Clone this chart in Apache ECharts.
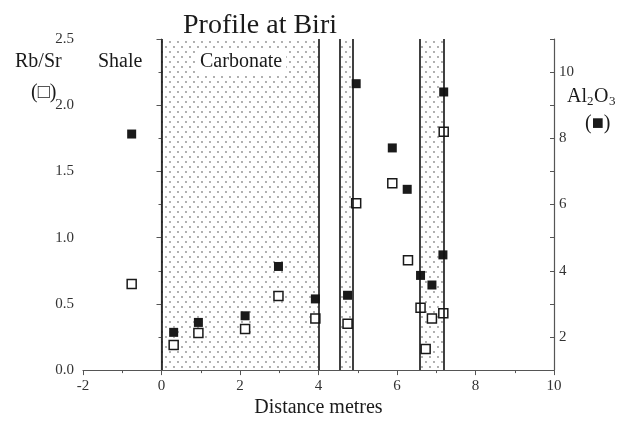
<!DOCTYPE html>
<html>
<head>
<meta charset="utf-8">
<script src="https://cdn.jsdelivr.net/npm/echarts@6/dist/echarts.min.js"></script>
<style>html,body{margin:0;padding:0;background:#fff;}#c{width:623px;height:423px;}</style>
</head>
<body>
<div id="c"></div>
<script>
// Distance (m) and values
const rbsrX = [-0.76, 0.31, 0.94, 2.13, 2.98, 3.92, 4.74, 4.96, 5.88, 6.28, 6.60, 6.73, 6.89, 7.18, 7.19];
const rbsrY = [0.65, 0.19, 0.28, 0.31, 0.56, 0.39, 0.35, 1.26, 1.41, 0.83, 0.47, 0.16, 0.39, 0.43, 1.80];
const alX = [-0.76, 0.31, 0.94, 2.13, 2.98, 3.92, 4.74, 4.96, 5.88, 6.26, 6.60, 6.89, 7.17, 7.19];
const alY = [8.13, 2.14, 2.44, 2.64, 4.13, 3.15, 3.26, 9.65, 7.71, 6.46, 3.86, 3.57, 4.48, 9.40];
// Carbonate (dotted) bands and boundary lines
const bandStart = [0, 4.55, 6.57];
const bandEnd = [4.0, 4.87, 7.19];
const boundaries = [0, 4.0, 4.55, 4.87, 6.57, 7.19];
const xTicks = [-2, 0, 2, 4, 6, 8, 10];
const leftTicks = [0.0, 0.5, 1.0, 1.5, 2.0, 2.5];
const rightTicks = [2, 4, 6, 8, 10];

const FONT = 'Liberation Serif';
const pc = document.createElement('canvas');
pc.width = 8; pc.height = 10;
const pctx = pc.getContext('2d');
pctx.fillStyle = '#ffffff'; pctx.fillRect(0,0,8,10);
pctx.fillStyle = '#8c8c8c';
pctx.beginPath(); pctx.arc(2, 2, 0.9, 0, Math.PI*2); pctx.fill();
pctx.beginPath(); pctx.arc(6, 7, 0.9, 0, Math.PI*2); pctx.fill();

const chart = echarts.init(document.getElementById('c'), null, {renderer:'canvas'});
const txt = (x, y, s, size, extra) => ({
  type:'text', left:x, top:y, z:100,
  style:Object.assign({text:s, font: size + 'px "' + FONT + '"', fill:'#1a1a1a'}, extra || {})
});

const option = {
  animation:false,
  backgroundColor:'#fff',
  grid:{left:83, right:69, top:39, bottom:44},
  title:{text:'Profile at Biri', left:255, top:21, textAlign:'center', textVerticalAlign:'middle',
    textStyle:{fontFamily:FONT, fontSize:28, fontWeight:'normal', color:'#1a1a1a'}},
  xAxis:{type:'value', min:-2, max:10, interval:2,
    axisLine:{lineStyle:{color:'#555', width:1.2}},
    axisTick:{show:true, length:5, lineStyle:{color:'#555'}},
    minorTick:{show:true, splitNumber:2, length:3, lineStyle:{color:'#555'}},
    splitLine:{show:false},
    axisLabel:{fontFamily:FONT, fontSize:15, color:'#333', margin:8,
      formatter:v => xTicks.includes(v) ? String(v) : ''},
    name:'Distance metres', nameLocation:'middle', nameGap:26,
    nameTextStyle:{fontFamily:FONT, fontSize:20, color:'#1a1a1a'}
  },
  yAxis:[
    {type:'value', min:0, max:2.5, interval:0.5,
      axisLine:{show:true, lineStyle:{color:'#555', width:1.2}},
      axisTick:{show:true, length:5, lineStyle:{color:'#555'}},
      minorTick:{show:true, splitNumber:2, length:3, lineStyle:{color:'#555'}},
      splitLine:{show:false},
      axisLabel:{fontFamily:FONT, fontSize:15, color:'#333', margin:9,
        formatter:v => leftTicks.some(t => Math.abs(t - v) < 1e-9) ? v.toFixed(1) : ''}
    },
    {type:'value', min:1, max:11, interval:1, position:'right',
      axisLine:{show:true, lineStyle:{color:'#555', width:1.2}},
      axisTick:{show:true, inside:true, length:4, lineStyle:{color:'#555'}},
      splitLine:{show:false},
      axisLabel:{fontFamily:FONT, fontSize:15, color:'#333', margin:5,
        formatter:v => rightTicks.includes(v) ? String(v) : ''}
    }
  ],
  graphic:[
    txt(15, 52, 'Rb/Sr', 20),
    txt(31, 83, '(\u25A1)', 20),
    txt(98, 52, 'Shale', 20),
    txt(196, 49, 'Carbonate', 20, {backgroundColor:'#fff', padding:[3,4,3,4]}),
    txt(567, 87, 'Al', 20),
    txt(587, 95, '2', 13),
    txt(594, 87, 'O', 20),
    txt(609, 95, '3', 13),
    txt(585, 114, '(\u25A0)', 20)
  ],
  series:[
    {type:'scatter', data:[], yAxisIndex:0, silent:true,
      markArea:{silent:true,
        itemStyle:{color:{image:pc, repeat:'repeat'}},
        data: bandStart.map((s,i) => [{xAxis:s},{xAxis:bandEnd[i]}])},
      markLine:{silent:true, symbol:['none','none'], label:{show:false},
        lineStyle:{color:'#111', width:1.6, type:'solid'},
        data: boundaries.map(b => ({xAxis:b}))}
    },
    {name:'Rb/Sr', type:'scatter', yAxisIndex:0, symbol:'rect', symbolSize:9,
      itemStyle:{color:'#fff', borderColor:'#1a1a1a', borderWidth:1.5, opacity:1},
      data: rbsrX.map((x,i) => [x, rbsrY[i]])},
    {name:'Al2O3', type:'scatter', yAxisIndex:1, symbol:'rect', symbolSize:9,
      itemStyle:{color:'#1a1a1a', opacity:1},
      data: alX.map((x,i) => [x, alY[i]])}
  ]
};
chart.setOption(option);
</script>
</body>
</html>
